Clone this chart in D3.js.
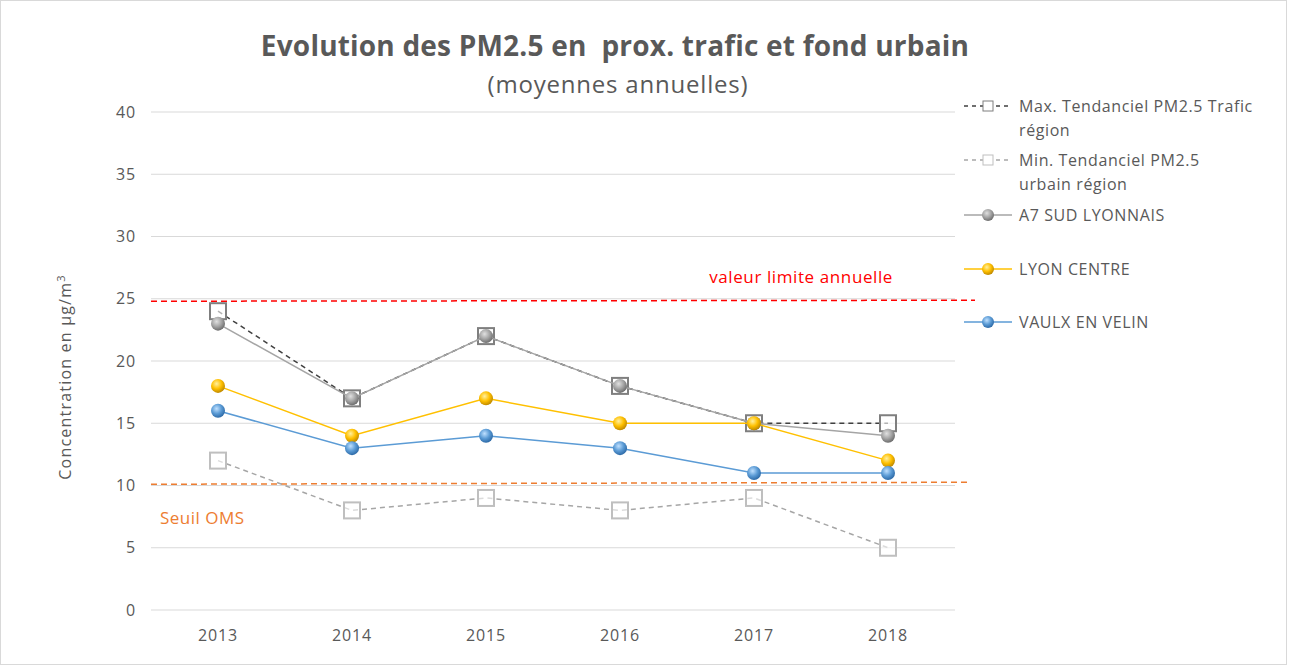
<!DOCTYPE html>
<html>
<head>
  <meta charset="utf-8">
  <title>PM2.5</title>
  <style>
    body { margin: 0; background: #fff; }
    svg text { font-family: "Open Sans", sans-serif; white-space: pre; }
    .grid line { stroke: #d9d9d9; stroke-width: 1px; }
    .tick text { fill: #595959; font-size: 16px; letter-spacing: 0.8px; font-family: "Open Sans", sans-serif; }
  </style>
</head>
<body>
<svg width="1289" height="666"></svg>
<script src="https://cdn.jsdelivr.net/npm/d3@7"></script>
<script>
  // data
  var years = ["2013", "2014", "2015", "2016", "2017", "2018"];
  var maxTrafic = [24, 17, 22, 18, 15, 15];
  var minUrbain = [12, 8, 9, 8, 9, 5];
  var a7 = [23, 17, 22, 18, 15, 14];
  var lyonCentre = [18, 14, 17, 15, 15, 12];
  var vaulx = [16, 13, 14, 13, 11, 11];
  var yTicks = [0, 5, 10, 15, 20, 25, 30, 35, 40];
  var valeurLimite = 24.8;
  var seuilOMS = 10.1;

  var series = [
    {name: "Max. Tendanciel PM2.5 Trafic|région", values: maxTrafic, type: "square", color: "#404040", box: "#7f7f7f", dash: "5,4"},
    {name: "Min. Tendanciel PM2.5|urbain région", values: minUrbain, type: "square", color: "#a6a6a6", box: "#bfbfbf", dash: "5,4"},
    {name: "A7 SUD LYONNAIS", values: a7, type: "ball", color: "#a5a5a5", light: "#e0e0e0", dark: "#6e6e6e"},
    {name: "LYON CENTRE", values: lyonCentre, type: "ball", color: "#ffc000", light: "#fff0a0", dark: "#c08a00"},
    {name: "VAULX EN VELIN", values: vaulx, type: "ball", color: "#5b9bd5", light: "#bfe0ff", dark: "#2e6ba8"}
  ];

  var svg = d3.select("svg"),
      margin = {top: 112, right: 334, bottom: 56, left: 151},
      width = 1289 - margin.left - margin.right,
      height = 666 - margin.top - margin.bottom;

  svg.append("rect")
      .attr("x", 0.5).attr("y", 0.5)
      .attr("width", 1286).attr("height", 664)
      .attr("fill", "#fff").attr("stroke", "#d9d9d9");

  var defs = svg.append("defs");
  series.forEach(function(s, i) {
    if (s.type !== "ball") return;
    var gr = defs.append("radialGradient")
        .attr("id", "ball" + i)
        .attr("cx", "40%").attr("cy", "35%").attr("r", "65%");
    gr.append("stop").attr("offset", "0%").attr("stop-color", s.light);
    gr.append("stop").attr("offset", "55%").attr("stop-color", s.color);
    gr.append("stop").attr("offset", "100%").attr("stop-color", s.dark);
  });

  var g = svg.append("g").attr("transform", "translate(" + margin.left + "," + margin.top + ")");

  var x = d3.scaleBand().domain(years).range([0, width]),
      y = d3.scaleLinear().domain([0, 40]).range([height, 0]);

  function cx(i) { return x(years[i]) + x.bandwidth() / 2; }

  // grid
  g.append("g").attr("class", "grid")
    .selectAll("line").data(yTicks).enter().append("line")
      .attr("x1", 0).attr("x2", width)
      .attr("y1", function(d) { return y(d); })
      .attr("y2", function(d) { return y(d); });

  var yAxis = g.append("g")
      .call(d3.axisLeft(y).tickValues(yTicks).tickSize(0).tickPadding(15));
  yAxis.select(".domain").remove();

  var xAxis = g.append("g")
      .attr("transform", "translate(0," + height + ")")
      .call(d3.axisBottom(x).tickSize(0).tickPadding(20));
  xAxis.select(".domain").remove();

  g.append("text")
      .attr("transform", "translate(-80,265) rotate(-90)")
      .attr("text-anchor", "middle")
      .attr("fill", "#595959")
      .style("font-size", "16px").style("letter-spacing", "1.2px")
      .html("Concentration en µg/m<tspan dy='-6' font-size='11px'>3</tspan>");

  // reference lines
  g.append("line")
      .attr("x1", 0).attr("x2", width + 20)
      .attr("y1", y(valeurLimite)).attr("y2", y(valeurLimite) - 1)
      .attr("stroke", "#ff0000").attr("stroke-width", 1.5).attr("stroke-dasharray", "6,4");
  g.append("text")
      .attr("x", 742).attr("y", y(valeurLimite) - 18)
      .attr("text-anchor", "end")
      .attr("fill", "#ff0000").style("font-size", "17px").style("letter-spacing", "0.6px")
      .text("valeur limite annuelle");

  g.append("line")
      .attr("x1", 0).attr("x2", width + 14)
      .attr("y1", y(seuilOMS)).attr("y2", y(seuilOMS) - 2)
      .attr("stroke", "#ed7d31").attr("stroke-width", 1.5).attr("stroke-dasharray", "6,4");
  g.append("text")
      .attr("x", 9).attr("y", y(seuilOMS) + 40)
      .attr("fill", "#ed7d31").style("font-size", "17px").style("letter-spacing", "0.5px")
      .text("Seuil OMS");

  var line = d3.line()
      .x(function(d, i) { return cx(i); })
      .y(function(d) { return y(d); });

  function marker(sel, s, i, px, py, r) {
    if (s.type === "square") {
      sel.append("rect")
          .attr("x", px - r).attr("y", py - r)
          .attr("width", 2 * r).attr("height", 2 * r)
          .attr("fill", "#fff").attr("fill-opacity", 0.6)
          .attr("stroke", s.box).attr("stroke-width", 2);
    } else {
      sel.append("circle")
          .attr("cx", px).attr("cy", py).attr("r", r)
          .attr("fill", "url(#ball" + i + ")");
    }
  }

  series.forEach(function(s, i) {
    var sg = g.append("g");
    sg.append("path")
        .attr("d", line(s.values))
        .attr("fill", "none")
        .attr("stroke", s.color)
        .attr("stroke-width", 1.5)
        .attr("stroke-dasharray", s.dash || null);
    s.values.forEach(function(v, j) {
      marker(sg, s, i, cx(j), y(v), s.type === "square" ? 8 : 7);
    });
  });

  // title
  svg.append("text")
      .attr("x", 615).attr("y", 56)
      .attr("text-anchor", "middle")
      .attr("fill", "#595959")
      .style("font-size", "28px").style("font-weight", "bold").style("letter-spacing", "0.2px")
      .text("Evolution des PM2.5 en  prox. trafic et fond urbain");
  svg.append("text")
      .attr("x", 618).attr("y", 93)
      .attr("text-anchor", "middle")
      .attr("fill", "#595959")
      .style("font-size", "24px").style("letter-spacing", "0.8px")
      .text("(moyennes annuelles)");

  // legend
  var legendY = [106, 160, 215, 269, 322];
  var legend = svg.append("g").attr("transform", "translate(964,0)");
  series.forEach(function(s, i) {
    var ly = legendY[i];
    var lg = legend.append("g");
    lg.append("line")
        .attr("x1", 0).attr("x2", 48)
        .attr("y1", ly).attr("y2", ly)
        .attr("stroke", s.color).attr("stroke-width", 1.3)
        .attr("stroke-dasharray", s.dash ? "4,4" : null);
    if (s.type === "square") {
      lg.append("rect")
          .attr("x", 19).attr("y", ly - 5).attr("width", 10).attr("height", 10)
          .attr("fill", "#fff").attr("stroke", s.box);
    } else {
      lg.append("circle").attr("cx", 24).attr("cy", ly).attr("r", 6)
          .attr("fill", "url(#ball" + i + ")");
    }
    var t = lg.append("text")
        .attr("x", 55).attr("y", ly + 6)
        .attr("fill", "#595959").style("font-size", "16px").style("letter-spacing", "0.6px");
    s.name.split("|").forEach(function(part, k) {
      t.append("tspan").attr("x", 55).attr("dy", k ? 24 : 0).text(part);
    });
  });
</script>
</body>
</html>
